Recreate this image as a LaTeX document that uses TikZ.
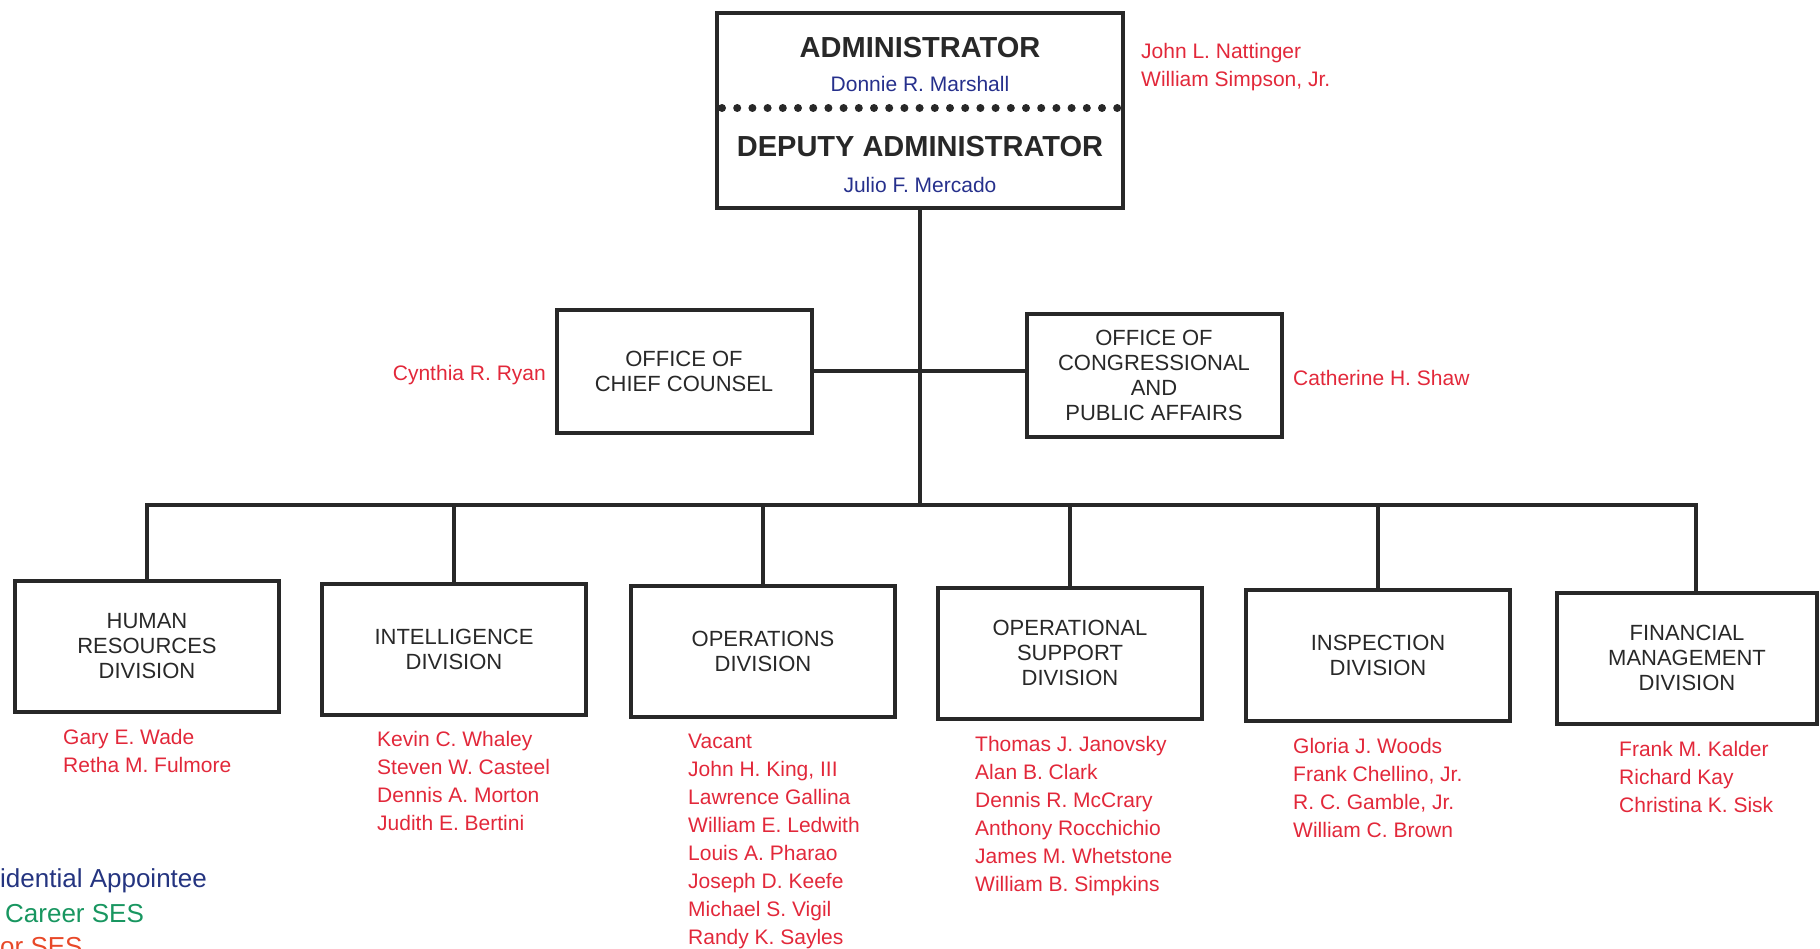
\documentclass[tikz,border=0pt]{standalone}
\usepackage{fontspec}
\setmainfont{Liberation Sans}
\definecolor{namered}{RGB}{226,40,58}
\definecolor{navy}{RGB}{38,48,140}
\definecolor{lgblue}{RGB}{36,52,128}
\definecolor{lggreen}{RGB}{24,150,96}
\definecolor{lgred}{RGB}{232,72,40}
\definecolor{ink}{RGB}{40,40,40}
\begin{document}
\begin{tikzpicture}[x=1pt,y=-1pt,
  box/.style={draw=ink,line width=4pt,rectangle,inner sep=0pt,align=center,
    font=\fontsize{22}{25}\selectfont,text=ink},
  divbox/.style={box,minimum width=264pt,minimum height=131pt},
  offbox/.style={box,minimum width=255pt,minimum height=123pt},
  conn/.style={draw=ink,line width=4.5pt,line join=miter},
  names/.style={anchor=north west,inner sep=0pt,align=left,text=namered,
    font=\fontsize{21}{28}\selectfont},
  onename/.style={inner sep=0pt,text=namered,font=\fontsize{21}{28}\selectfont},
  title/.style={inner sep=0pt,anchor=base,text=ink,font=\bfseries\fontsize{29}{29}\selectfont},
  pres/.style={inner sep=0pt,anchor=base,text=navy,font=\fontsize{21}{21}\selectfont},
  dotline/.style={draw=ink,line width=8pt,line cap=round,dash pattern=on 0pt off 15.2pt},
  legend/.style={inner sep=0pt,anchor=base west,font=\fontsize{26}{26}\selectfont}
]
\useasboundingbox (0,0) rectangle (1820,948);

% top box
\node[box,minimum width=406pt,minimum height=195pt] (top) at (920,110) {};
\node[title] (admin) at (920,57) {ADMINISTRATOR};
\node[pres] (marshall) at (920,91.5) {Donnie R. Marshall};
\coordinate (dl) at (722,108);
\coordinate (dr) at (1118,108);
\draw[dotline] (dl) -- (dr);
\node[title] (deputy) at (920,156.5) {DEPUTY ADMINISTRATOR};
\node[pres] (mercado) at (920,192.5) {Julio F. Mercado};
\node[names] (topnames) at (1141,43) {John L. Nattinger\\William Simpson, Jr.};

% offices
\node[offbox] (chief) at (684,371) {OFFICE OF\\CHIEF COUNSEL};
\node[offbox] (cong) at (1154,375) {OFFICE OF\\CONGRESSIONAL\\AND\\PUBLIC AFFAIRS};
\node[onename,anchor=base east] (ryan) at (546,380.5) {Cynthia R. Ryan};
\node[onename,anchor=base west] (shaw) at (1293,385.5) {Catherine H. Shaw};

% divisions
\node[divbox] (hr) at (147,646) {HUMAN\\RESOURCES\\DIVISION};
\node[divbox] (intel) at (454,649) {INTELLIGENCE\\DIVISION};
\node[divbox] (ops) at (763,651) {OPERATIONS\\DIVISION};
\node[divbox] (opsup) at (1070,653) {OPERATIONAL\\SUPPORT\\DIVISION};
\node[divbox] (insp) at (1378,655) {INSPECTION\\DIVISION};
\node[divbox,minimum width=260pt] (fin) at (1687,658) {FINANCIAL\\MANAGEMENT\\DIVISION};

% connectors
\coordinate (bus) at (920,505);
\coordinate (findrop) at (1696,505);
\draw[conn] (top.south) -- (bus);
\draw[conn] (chief.east) -- (chief.east -| cong.west);
\draw[conn] (hr.north) -- (hr.north |- bus) -- (findrop) -- (findrop |- fin.north);
\draw[conn] (intel.north) -- (intel.north |- bus);
\draw[conn] (ops.north) -- (ops.north |- bus);
\draw[conn] (opsup.north) -- (opsup.north |- bus);
\draw[conn] (insp.north) -- (insp.north |- bus);

% names
\node[names] (hrn) at (63,729) {Gary E. Wade\\Retha M. Fulmore};
\node[names] (inteln) at (377,731) {Kevin C. Whaley\\Steven W. Casteel\\Dennis A. Morton\\Judith E. Bertini};
\node[names] (opsn) at (688,734) {Vacant\\John H. King, III\\Lawrence Gallina\\William E. Ledwith\\Louis A. Pharao\\Joseph D. Keefe\\Michael S. Vigil\\Randy K. Sayles};
\node[names] (opsupn) at (975,736) {Thomas J. Janovsky\\Alan B. Clark\\Dennis R. McCrary\\Anthony Rocchichio\\James M. Whetstone\\William B. Simpkins};
\node[names] (inspn) at (1293,738) {Gloria J. Woods\\Frank Chellino, Jr.\\R. C. Gamble, Jr.\\William C. Brown};
\node[names] (finn) at (1619,741) {Frank M. Kalder\\Richard Kay\\Christina K. Sisk};

% legend
\node[legend,text=lgblue] (lg1) at (0,887) {idential Appointee};
\node[legend,text=lggreen] (lg2) at (5,922) {Career SES};
\node[legend,text=lgred] (lg3) at (0,955) {or SES};
\end{tikzpicture}
\end{document}
